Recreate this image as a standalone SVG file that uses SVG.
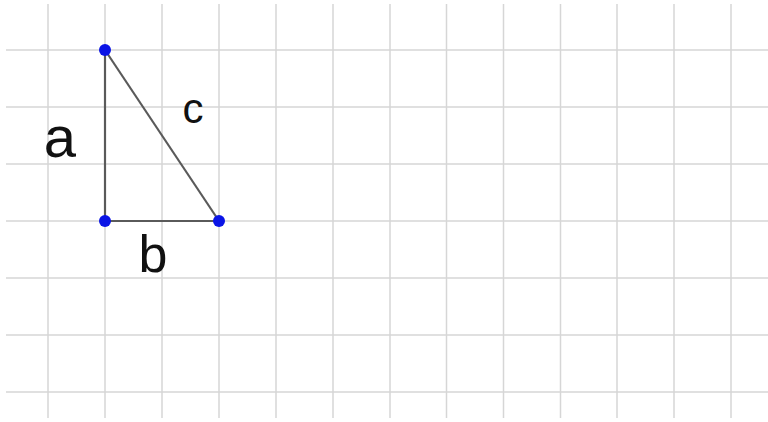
<svg xmlns="http://www.w3.org/2000/svg" width="768" height="422" viewBox="0 0 768 422">
<style>
.grid line{stroke:#d6d6d6;stroke-width:1.5}
.edge{stroke:#5a5a5a;stroke-width:2.2;fill:none}
.pt{fill:#0a14e6}
.lbl{font-family:"Liberation Sans","DejaVu Sans",sans-serif;fill:#111;text-anchor:middle}
</style>
<rect width="768" height="422" fill="#fff"/>
<g class="grid" id="grid">
<line x1="48" y1="4" x2="48" y2="418"/>
<line x1="105" y1="4" x2="105" y2="418"/>
<line x1="162" y1="4" x2="162" y2="418"/>
<line x1="219" y1="4" x2="219" y2="418"/>
<line x1="276" y1="4" x2="276" y2="418"/>
<line x1="333" y1="4" x2="333" y2="418"/>
<line x1="390" y1="4" x2="390" y2="418"/>
<line x1="446.5" y1="4" x2="446.5" y2="418"/>
<line x1="503.5" y1="4" x2="503.5" y2="418"/>
<line x1="560.5" y1="4" x2="560.5" y2="418"/>
<line x1="617" y1="4" x2="617" y2="418"/>
<line x1="674" y1="4" x2="674" y2="418"/>
<line x1="731" y1="4" x2="731" y2="418"/>
<line x1="6" y1="50" x2="768" y2="50"/>
<line x1="6" y1="107" x2="768" y2="107"/>
<line x1="6" y1="164" x2="768" y2="164"/>
<line x1="6" y1="221" x2="768" y2="221"/>
<line x1="6" y1="278" x2="768" y2="278"/>
<line x1="6" y1="335" x2="768" y2="335"/>
<line x1="6" y1="392" x2="768" y2="392"/>
</g>
<g id="connectors">
<line class="edge" x1="105" y1="50" x2="105" y2="221"/>
<line class="edge" x1="105" y1="221" x2="219" y2="221"/>
<line class="edge" x1="105" y1="50" x2="219" y2="221"/>
</g>
<g id="A"><circle class="pt" cx="105" cy="50" r="6"/></g>
<g id="B"><circle class="pt" cx="105" cy="221" r="6"/></g>
<g id="C"><circle class="pt" cx="219" cy="221" r="6"/></g>
<g id="labels">
<text class="lbl" x="60" y="157" font-size="58">a</text>
<text class="lbl" x="193" y="123" font-size="42">c</text>
<text class="lbl" x="153" y="272" font-size="52">b</text>
</g>
</svg>
